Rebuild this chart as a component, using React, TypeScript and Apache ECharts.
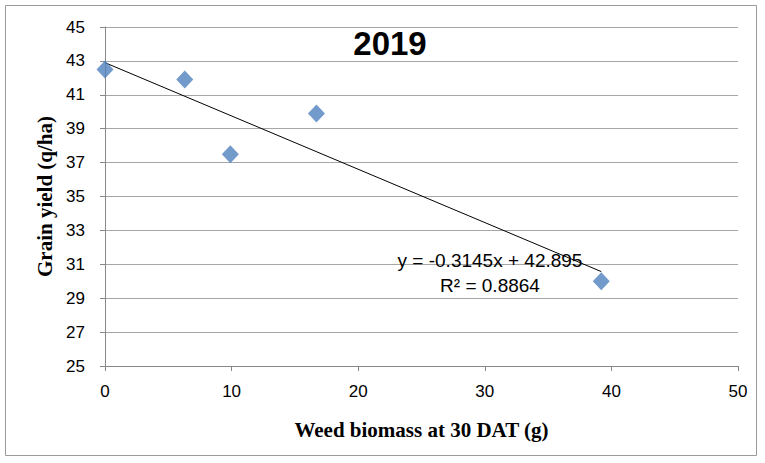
import React, { useEffect, useRef } from "react";
import * as echarts from "echarts";

const weedBiomass = [0, 6.3, 9.9, 16.7, 39.2];
const grainYield = [42.5, 41.9, 37.5, 39.9, 30.0];
const trendX = [0, 39.2];
const trendY = [42.895, 30.57];
const xTicks = [0, 10, 20, 30, 40, 50];
const yTicks = [25, 27, 29, 31, 33, 35, 37, 39, 41, 43, 45];
const chartTitle = "2019";
const equationText = "y = -0.3145x + 42.895";
const r2Text = "R² = 0.8864";

export default function App() {
  const ref = useRef<HTMLDivElement>(null);
  useEffect(() => {
    if (!ref.current) return;
    const chart = echarts.init(ref.current, null, { renderer: "svg" });
    const sans = "'Liberation Sans', 'Open Sans', sans-serif";
    const serif = "'Liberation Serif', 'DejaVu Serif', serif";
    chart.setOption({
      animation: false,
      backgroundColor: "#ffffff",
      grid: { left: 105, right: 27, top: 27, bottom: 97 },
      xAxis: {
        type: "value",
        min: xTicks[0],
        max: xTicks[xTicks.length - 1],
        interval: 10,
        name: "Weed biomass at 30 DAT (g)",
        nameLocation: "middle",
        nameGap: 53,
        nameTextStyle: { fontFamily: serif, fontWeight: "bold", fontSize: 21, color: "#000" },
        axisLine: { show: true, lineStyle: { color: "#888", width: 1 } },
        axisTick: { show: true, length: 5, lineStyle: { color: "#888" } },
        axisLabel: { fontFamily: sans, fontSize: 17, color: "#000", margin: 17 },
        splitLine: { show: false },
      },
      yAxis: {
        type: "value",
        min: yTicks[0],
        max: yTicks[yTicks.length - 1],
        interval: 2,
        name: "Grain yield (q/ha)",
        nameLocation: "middle",
        nameGap: 40,
        nameTextStyle: { fontFamily: serif, fontWeight: "bold", fontSize: 21, color: "#000" },
        axisLine: { show: true, lineStyle: { color: "#888", width: 1 } },
        axisTick: { show: true, length: 5, lineStyle: { color: "#888" } },
        axisLabel: { fontFamily: sans, fontSize: 17, color: "#000", margin: 20 },
        splitLine: { show: true, lineStyle: { color: "#a6a6a6", width: 1 } },
      },
      series: [
        {
          type: "line",
          data: trendX.map((x, i) => [x, trendY[i]]),
          symbol: "none",
          lineStyle: { color: "#000", width: 1 },
          z: 3,
        },
        {
          type: "scatter",
          data: weedBiomass.map((x, i) => [x, grainYield[i]]),
          symbol: "diamond",
          symbolSize: [17, 18],
          itemStyle: { color: "#4F81BD" },
          z: 4,
        },
      ],
      graphic: [
        {
          type: "rect",
          shape: { x: 5.5, y: 5.5, width: 751, height: 450 },
          style: { fill: "none", stroke: "#9a9a9a", lineWidth: 1 },
          z: -1,
        },
        {
          type: "text",
          x: 390,
          y: 43,
          style: {
            text: chartTitle,
            fontFamily: sans,
            fontWeight: "bold",
            fontSize: 33,
            fill: "#000",
            align: "center",
            verticalAlign: "middle",
          },
        },
        {
          type: "text",
          x: 490,
          y: 260,
          style: {
            text: equationText,
            fontFamily: sans,
            fontSize: 19,
            fill: "#000",
            align: "center",
            verticalAlign: "middle",
          },
          z: 5,
        },
        {
          type: "text",
          x: 490,
          y: 285,
          style: {
            text: r2Text,
            fontFamily: sans,
            fontSize: 19,
            fill: "#000",
            align: "center",
            verticalAlign: "middle",
          },
          z: 5,
        },
      ],
    });
    return () => chart.dispose();
  }, []);
  return <div ref={ref} style={{ width: 765, height: 463, position: "absolute", left: 0, top: 0 }} />;
}
